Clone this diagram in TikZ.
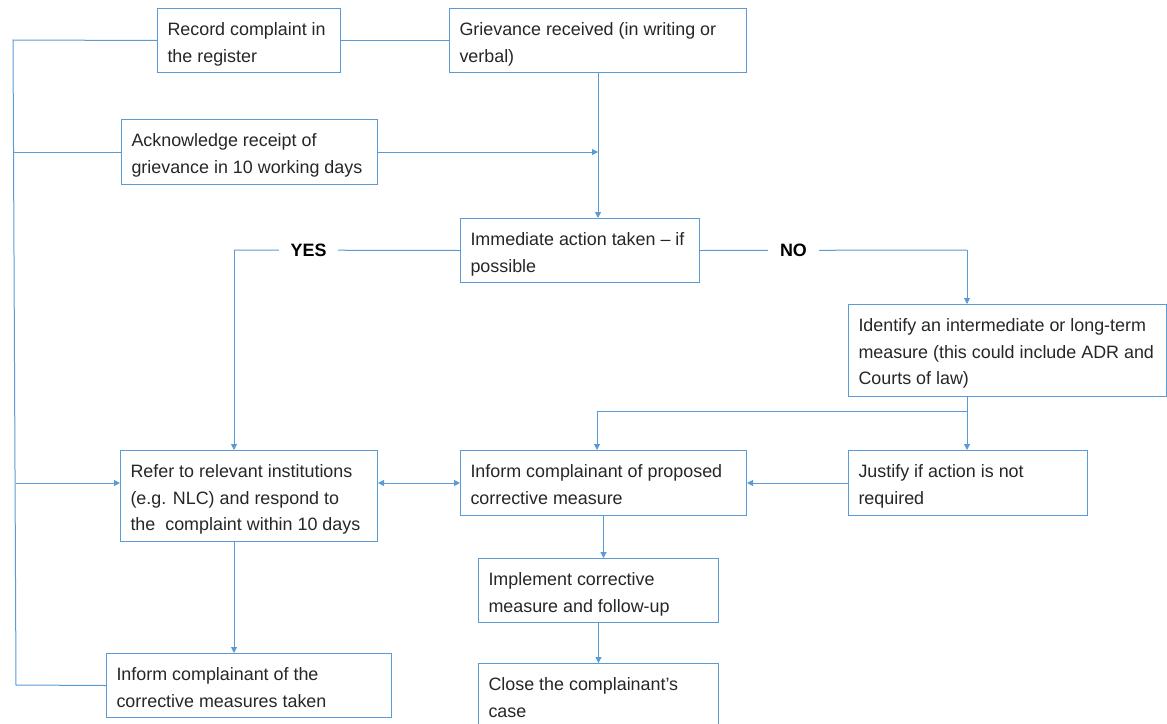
\documentclass[tikz,border=0pt]{standalone}
\usepackage{fontspec}
\setmainfont{Liberation Sans}
\usetikzlibrary{arrows.meta,calc}
\definecolor{bblue}{HTML}{5B9BD5}
\definecolor{txt}{HTML}{262626}
\newcommand{\boxtxt}[3]{\parbox[c][#2][t]{#1}{\fontsize{17.9}{26.5}\selectfont\color{txt}\leftskip=10pt\rightskip=0pt plus 1fil\parindent=0pt\rule{0pt}{27pt}#3}}
\tikzset{
  fbox/.style={draw=bblue, line width=1pt, inner sep=0pt, anchor=north west},
  conn/.style={draw=bblue, line width=1pt},
  arr/.style={conn, -{Triangle[length=6pt,width=6pt]}},
  darr/.style={conn, {Triangle[length=6pt,width=6pt]}-{Triangle[length=6pt,width=6pt]}},
  lbl/.style={fill=white, inner xsep=12pt, inner ysep=2pt, font=\fontsize{17.9}{20}\selectfont\bfseries, text=black}
}
\begin{document}
\begin{tikzpicture}[x=1pt,y=-1pt]
\useasboundingbox (0,0) rectangle (1167,723);
\begin{scope}
\clip (0,0) rectangle (1167,723);
\node[fbox] (rec) at (157,8) {\boxtxt{183pt}{64pt}{Record complaint in\\the register}};
\node[fbox] (grv) at (449,8) {\boxtxt{297pt}{64pt}{Grievance received (in writing or\\verbal)}};
\node[fbox] (ack) at (121,119) {\boxtxt{256pt}{65pt}{Acknowledge receipt of\\grievance in 10 working days}};
\node[fbox] (imm) at (460,218) {\boxtxt{239pt}{64pt}{Immediate action taken -- if\\possible}};
\node[fbox] (idf) at (848,304) {\boxtxt{318pt}{92pt}{Identify an intermediate or long-term\\measure (this could include ADR and\\Courts of law)}};
\node[fbox] (ref) at (120,450) {\boxtxt{257pt}{91pt}{Refer to relevant institutions\\(e.g. NLC) and respond to\\the\ \ complaint within 10 days}};
\node[fbox] (inp) at (460,450) {\boxtxt{286pt}{65pt}{Inform complainant of proposed\\corrective measure}};
\node[fbox] (jus) at (848,450) {\boxtxt{239pt}{65pt}{Justify if action is not\\required}};
\node[fbox] (imp) at (478,558) {\boxtxt{240pt}{64pt}{Implement corrective\\measure and follow-up}};
\node[fbox] (cls) at (478,663) {\boxtxt{240pt}{75pt}{Close the complainant's\\case}};
\node[fbox] (inf) at (106,653) {\boxtxt{285pt}{64pt}{Inform complainant of the\\corrective measures taken}};
\end{scope}

\coordinate (sTop) at (13,40);
\coordinate (sBot) at (16,685);
\coordinate (yesC) at (234,250);
\coordinate (noC) at (967,250);
\coordinate (br) at (967,411);
\coordinate (vx) at (597,411);

% left spine
\draw[conn] (rec.west) -- (sTop) -- (sBot) -- (inf.west);
\draw[conn] (ack.west) -- (ack.west -| sTop);
\draw[arr] (ack.east) -- (ack.east -| grv.south);
\draw[conn] (rec.east) -- (grv.west);
\draw[arr] (grv.south) -- (grv.south |- imm.north);

% YES branch
\draw[conn] (yesC) -- node[lbl, pos=0.33] {YES} (imm.west);
\draw[arr] (yesC) -- (yesC |- ref.north);

% NO branch
\draw[conn] (imm.east) -- node[lbl, pos=0.35] {NO} (noC);
\draw[arr] (noC) -- (noC |- idf.north);
\draw[arr] (noC |- idf.south) -- (noC |- jus.north);
\draw[arr] (br) -- (vx) -- (vx |- inp.north);

% middle row
\draw[arr] (jus.west) -- (inp.east);
\draw[darr] (inp.west -| ref.east) -- (inp.west);
\draw[arr] (sBot |- inp.west) -- (ref.west |- inp.west);

% downward
\draw[arr] (yesC |- ref.south) -- (yesC |- inf.north);
\draw[arr] (inp.south) -- (inp.south |- imp.north);
\draw[arr] (imp.south) -- (imp.south |- cls.north);
\end{tikzpicture}
\end{document}
